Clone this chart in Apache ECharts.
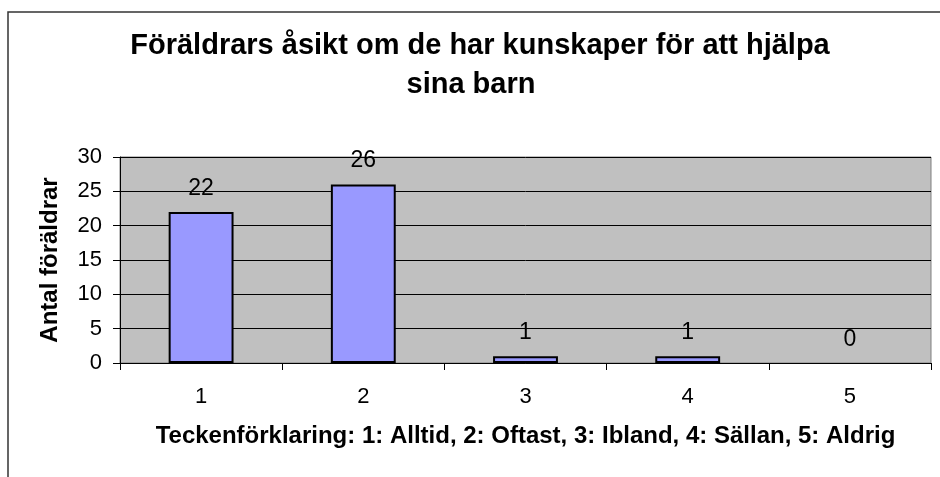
<!DOCTYPE html>
<html>
<head>
<meta charset="utf-8">
<script src="https://cdn.jsdelivr.net/npm/echarts@6/dist/echarts.min.js"></script>
<style>html,body{margin:0;padding:0;background:#fff;}#c{width:940px;height:477px;}</style>
</head>
<body>
<div id="c"></div>
<script>
const titleLine1 = 'Föräldrars åsikt om de har kunskaper för att hjälpa';
const titleLine2 = 'sina barn';
const categories = ['1', '2', '3', '4', '5'];
const values = [22, 26, 1, 1, 0];
const yTicks = [0, 5, 10, 15, 20, 25, 30];
const xAxisName = 'Teckenförklaring: 1: Alltid, 2: Oftast, 3: Ibland, 4: Sällan, 5: Aldrig';
const yAxisName = 'Antal föräldrar';

const font = 'Liberation Sans, Arial, sans-serif';
const chart = echarts.init(document.getElementById('c'), null, {renderer: 'canvas'});
chart.setOption({
  animation: false,
  backgroundColor: '#fff',
  title: [
    {text: titleLine1, left: 480, top: 31, textAlign: 'center', padding: 0,
     textStyle: {fontFamily: font, fontSize: 29, fontWeight: 'bold', color: '#000'}},
    {text: titleLine2, left: 471, top: 70, textAlign: 'center', padding: 0,
     textStyle: {fontFamily: font, fontSize: 29, fontWeight: 'bold', color: '#000'}}
  ],
  graphic: [
    {type: 'rect', shape: {x: 8, y: 12, width: 1000, height: 1000}, style: {fill: 'none', stroke: '#333', lineWidth: 1.5}, silent: true, z: 100}
  ],
  grid: {left: 120, right: 9, top: 157, bottom: 114, show: true, backgroundColor: '#C0C0C0', borderColor: '#808080', borderWidth: 1},
  xAxis: {
    type: 'category', data: categories,
    name: xAxisName, nameLocation: 'middle', nameGap: 61,
    nameTextStyle: {fontFamily: font, fontSize: 24, fontWeight: 'bold', color: '#000'},
    axisLine: {lineStyle: {color: '#000', width: 1}},
    axisTick: {show: true, length: 7, lineStyle: {color: '#000'}},
    axisLabel: {fontFamily: font, fontSize: 22, color: '#000', margin: 23},
    splitLine: {show: false}
  },
  yAxis: {
    type: 'value', min: 0, max: 30, interval: 5,
    name: yAxisName, nameLocation: 'middle', nameGap: 58, nameRotate: 90,
    nameTextStyle: {fontFamily: font, fontSize: 24, fontWeight: 'bold', color: '#000'},
    axisLine: {show: true, lineStyle: {color: '#000', width: 1}},
    axisTick: {show: true, length: 7, lineStyle: {color: '#000'}},
    axisLabel: {fontFamily: font, fontSize: 22, color: '#000', margin: 18,
      formatter: v => yTicks.includes(v) ? String(v) : ''},
    splitLine: {show: true, lineStyle: {color: '#000', width: 1}}
  },
  series: [{
    type: 'bar', data: values.map(v => v === 0 ? {value: v, itemStyle: {borderWidth: 0}} : v), barWidth: '40%',
    itemStyle: {color: '#9999FF', borderColor: '#000', borderWidth: 2},
    label: {show: true, position: 'top', distance: 12, fontFamily: font, fontSize: 23, color: '#000'}
  }]
});
</script>
</body>
</html>
